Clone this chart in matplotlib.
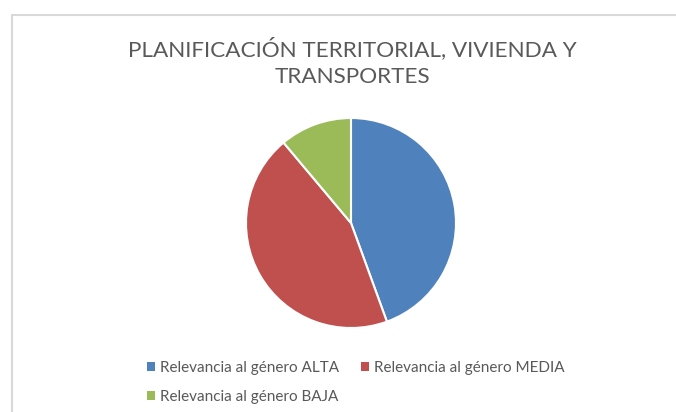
import matplotlib
matplotlib.use('Agg')
import matplotlib.pyplot as plt
from matplotlib.patches import Patch, Rectangle

# datos
labels = ['Relevancia al género ALTA', 'Relevancia al género MEDIA', 'Relevancia al género BAJA']
values = [4, 4, 1]
colors = ['#4F81BD', '#C0504D', '#9BBB59']
title = 'PLANIFICACIÓN TERRITORIAL, VIVIENDA Y\nTRANSPORTES'

plt.rcParams['font.family'] = ['Lato', 'DejaVu Sans']

W, H = 676, 412
fig = plt.figure(figsize=(W / 100, H / 100), dpi=100)
fig.patch.set_facecolor('white')

# marco del gráfico
fig.add_artist(Rectangle((11.5 / W, -0.1), 1.2, (H - 14.5) / H + 0.1,
                         transform=fig.transFigure, fill=False,
                         edgecolor='#D9D9D9', linewidth=1.5))

# pie
cx, cy, r = 351, 223, 105
ax = fig.add_axes([(cx - r) / W, (H - cy - r) / H, 2 * r / W, 2 * r / H])
wedges, _ = ax.pie(values, colors=colors, startangle=90, counterclock=False,
                   wedgeprops=dict(edgecolor='white', linewidth=1.5))
ax.set_xlim(-1, 1)
ax.set_ylim(-1, 1)
ax.set_aspect('equal')

fig.text(352 / W, 1 - 62 / H, title, ha='center', va='center',
         fontsize=16.2, color='#595959', linespacing=1.45)

# leyenda: ALTA, MEDIA en la primera fila; BAJA en la segunda
handles = [Patch(facecolor=c, edgecolor='none') for c in colors]
order = [0, 2, 1]
fig.legend([handles[i] for i in order], [labels[i] for i in order],
           loc='upper left', bbox_to_anchor=(139 / W, 1 - 353 / H),
           ncol=2, frameon=False, fontsize=11, labelcolor='#595959',
           handlelength=0.55, handleheight=0.55, handletextpad=0.3,
           columnspacing=1.45, labelspacing=1.0, borderpad=0)

fig.savefig('out.png', dpi=100, facecolor='white')
